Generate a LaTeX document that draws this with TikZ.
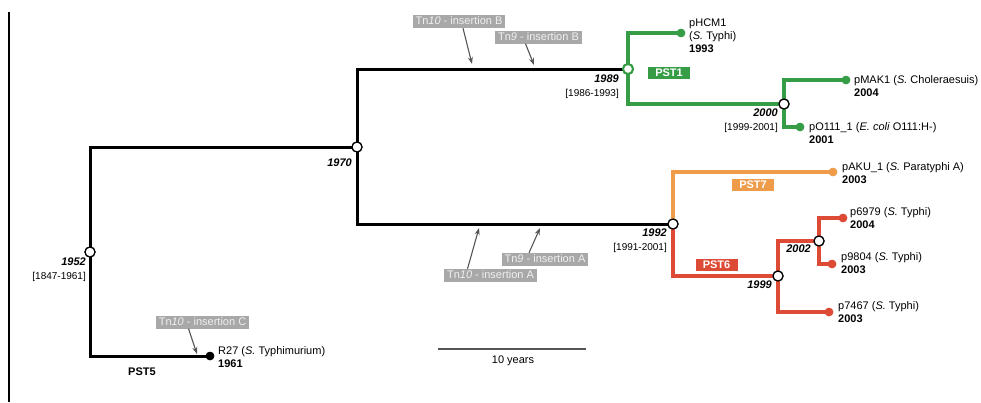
\documentclass[tikz,border=0pt]{standalone}
\usepackage{fontspec}
\setmainfont{Liberation Sans}
\usetikzlibrary{arrows.meta}
\definecolor{cgreen}{HTML}{369C45}
\definecolor{corange}{HTML}{EE9B4A}
\definecolor{cred}{HTML}{DD4A35}
\definecolor{tnbox}{HTML}{A8A8A8}
\definecolor{tntext}{HTML}{F0F0F0}
\definecolor{arrgray}{HTML}{555555}
\tikzset{
  blk/.style={line width=3pt, black},
  grn/.style={line width=4.5pt, cgreen},
  org/.style={line width=4.5pt, corange},
  rdd/.style={line width=4.5pt, cred},
  inode/.style={circle, draw=black, line width=1.2pt, fill=white, minimum size=10pt, inner sep=0pt},
  gnode/.style={inode, draw=cgreen, line width=2pt},
  leaf/.style={circle, fill=#1, minimum size=8.5pt, inner sep=0pt},
  leaftxt/.style={anchor=north west, inner sep=0pt, align=left, font=\fontsize{11}{13}\selectfont},
  yeartxt/.style={anchor=north east, inner sep=0pt, align=right, font=\fontsize{11}{13}\selectfont\bfseries\itshape},
  rangetxt/.style={anchor=north east, inner sep=0pt, align=right, font=\fontsize{10}{13}\selectfont},
  pstbox/.style={fill=#1, text=white, font=\fontsize{11}{13}\selectfont\bfseries, minimum width=42pt, minimum height=12pt, inner sep=0pt},
  tnlab/.style={fill=tnbox, text=tntext, font=\fontsize{11}{13}\selectfont, minimum height=13pt, inner xsep=3pt, inner ysep=0pt, text height=8pt, text depth=1.5pt},
  tnarrow/.style={draw=arrgray, line width=1.1pt, -{Stealth[length=7pt,width=5pt]}},
}
\begin{document}
\begin{tikzpicture}[x=1pt,y=-1pt]
\useasboundingbox (0,0) rectangle (981,402);
% left frame line
\draw[line width=2pt] (9,12) -- (9,402);

% internal nodes
\node[inode] (n1952) at (90,252) {};
\node[inode] (n1970) at (357,147) {};
\node[gnode] (n1989) at (628,69) {};
\node[inode] (n2000) at (784,104) {};
\node[inode] (n1992) at (673,224) {};
\node[inode] (n1999) at (778,276) {};
\node[inode] (n2002) at (819,241) {};

% leaves
\node[leaf=cgreen] (pHCM1) at (681,33) {};
\node[leaf=cgreen] (pMAK1) at (846,80) {};
\node[leaf=cgreen] (pO111) at (800,127) {};
\node[leaf=corange] (pAKU) at (833,172) {};
\node[leaf=cred] (p6979) at (843,218) {};
\node[leaf=cred] (p9804) at (832,264) {};
\node[leaf=cred] (p7467) at (829,312) {};
\node[leaf=black] (R27) at (210,356) {};

% branches
\draw[blk] (n1952.center) |- (n1970.center);
\draw[blk] (n1952.center) |- (R27.center);
\draw[blk] (n1970.center) |- (n1989.center);
\draw[blk] (n1970.center) |- (n1992.center);
\draw[grn] (n1989.center) |- (pHCM1.center);
\draw[grn] (n1989.center) |- (n2000.center);
\draw[grn] (n2000.center) |- (pMAK1.center);
\draw[grn] (n2000.center) |- (pO111.center);
\draw[org] (n1992.center) |- (pAKU.center);
\draw[rdd] (n1992.center) |- (n1999.center);
\draw[rdd] (n1999.center) |- (n2002.center);
\draw[rdd] (n1999.center) |- (p7467.center);
\draw[rdd] (n2002.center) |- (p6979.center);
\draw[rdd] (n2002.center) |- (p9804.center);

% redraw markers on top
\node[inode] at (n1952) {};
\node[inode] at (n1970) {};
\node[gnode] at (n1989) {};
\node[inode] at (n2000) {};
\node[inode] at (n1992) {};
\node[inode] at (n1999) {};
\node[inode] at (n2002) {};
\node[leaf=cgreen] at (pHCM1) {};
\node[leaf=cgreen] at (pMAK1) {};
\node[leaf=cgreen] at (pO111) {};
\node[leaf=corange] at (pAKU) {};
\node[leaf=cred] at (p6979) {};
\node[leaf=cred] at (p9804) {};
\node[leaf=cred] at (p7467) {};
\node[leaf=black] at (R27) {};

% leaf labels
\node[leaftxt] (tHCM1) at (689,19) {pHCM1\\(\textit{S.} Typhi)\\\textbf{1993}};
\node[leaftxt] (tMAK1) at (854,75) {pMAK1 (\textit{S.} Choleraesuis)\\\textbf{2004}};
\node[leaftxt] (tO111) at (809,122) {pO111\_1 (\textit{E. coli} O111:H-)\\\textbf{2001}};
\node[leaftxt] (tAKU) at (842,162) {pAKU\_1 (\textit{S.} Paratyphi A)\\\textbf{2003}};
\node[leaftxt] (t6979) at (850,207) {p6979 (\textit{S.} Typhi)\\\textbf{2004}};
\node[leaftxt] (t9804) at (841,252) {p9804 (\textit{S.} Typhi)\\\textbf{2003}};
\node[leaftxt] (t7467) at (838,301) {p7467 (\textit{S.} Typhi)\\\textbf{2003}};
\node[leaftxt] (tR27) at (218,346) {R27 (\textit{S.} Typhimurium)\\\textbf{1961}};

% internal node labels
\node[yeartxt] (y1970) at (352,159) {1970};
\node[yeartxt] (y1952) at (86,258) {1952};
\node[rangetxt] (r1952) at (86,272) {[1847-1961]};
\node[yeartxt] (y1989) at (619,75) {1989};
\node[rangetxt] (r1989) at (619,89) {[1986-1993]};
\node[yeartxt] (y2000) at (778,109) {2000};
\node[rangetxt] (r2000) at (778,123) {[1999-2001]};
\node[yeartxt] (y1992) at (667,229) {1992};
\node[rangetxt] (r1992) at (667,243) {[1991-2001]};
\node[yeartxt] (y2002) at (811,245) {2002};
\node[yeartxt] (y1999) at (772,281) {1999};

% PST labels
\node[pstbox=cgreen] (pst1) at (669,73) {PST1};
\node[pstbox=corange] (pst7) at (753,185) {PST7};
\node[pstbox=cred] (pst6) at (716.5,265) {PST6};
\node[anchor=base, inner sep=0pt, font=\fontsize{11}{13}\selectfont\bfseries] (pst5) at (142,375) {PST5};

% transposon insertions
\node[tnlab] (tn10b) at (459,21.5) {Tn\textit{10} - insertion B};
\node[tnlab] (tn9b) at (538.5,37) {Tn\textit{9} - insertion B};
\node[tnlab] (tn10a) at (490.5,275.5) {Tn\textit{10} - insertion A};
\node[tnlab] (tn9a) at (545,259.5) {Tn\textit{9} - insertion A};
\node[tnlab] (tn10c) at (202.5,322) {Tn\textit{10} - insertion C};
\coordinate (a10b) at (472,64);
\coordinate (a9b) at (534,65);
\coordinate (a10a) at (479,228);
\coordinate (a9a) at (540,228);
\coordinate (a10c) at (197,354);
\draw[tnarrow] ([xshift=4pt]tn10b.south) -- (a10b);
\draw[tnarrow] ([xshift=-13pt]tn9b.south) -- (a9b);
\draw[tnarrow] ([xshift=-23pt]tn10a.north) -- (a10a);
\draw[tnarrow] ([xshift=-16pt]tn9a.north) -- (a9a);
\draw[tnarrow] ([xshift=-14pt]tn10c.south) -- (a10c);

% scale bar
\coordinate (sbL) at (438,349);
\coordinate (sbR) at (586,349);
\draw[arrgray, line width=1.2pt] (sbL) -- (sbR);
\node[anchor=base, inner sep=0pt, font=\fontsize{11}{13}\selectfont] (sbt) at (513,363) {10 years};
\end{tikzpicture}
\end{document}
